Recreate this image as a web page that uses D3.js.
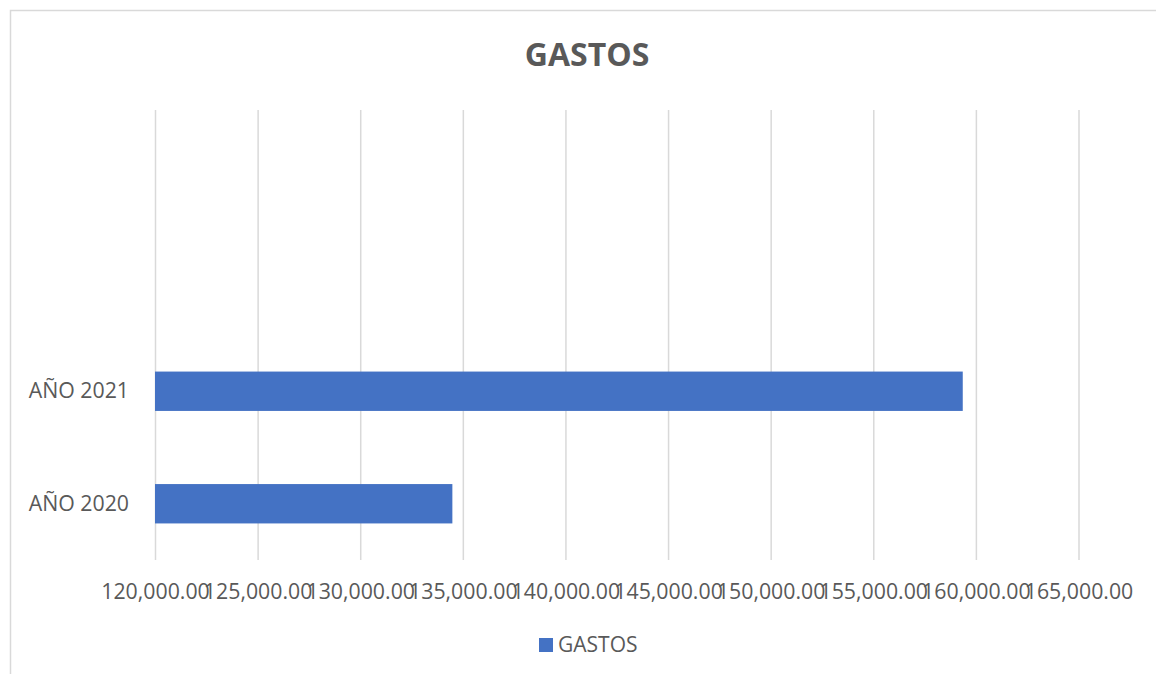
<!DOCTYPE html>
<html>
<head>
<meta charset="utf-8">
<script src="https://cdn.jsdelivr.net/npm/d3@7"></script>
<style>
  body { margin: 0; background: #fff; }
  text { font-family: "Open Sans", sans-serif; fill: #595959; }
</style>
</head>
<body>
<div class="grafico"></div>
<script>
// datos (las dos ultimas categorias estan vacias)
var categorias = ["AÑO 2020", "AÑO 2021", "", ""];
var gastos = [134490, 159360, null, null];
var ticksX = [120000, 125000, 130000, 135000, 140000, 145000, 150000, 155000, 160000, 165000];
var serie = "GASTOS";
var titulo = "GASTOS";

var w = 1156;
var h = 674;

var svg = d3.select(".grafico")
  .append("svg")
  .attr("width", w)
  .attr("height", h);

// marco del area del grafico
svg.append("rect")
  .attr("x", 10.5).attr("y", 10.5)
  .attr("width", w + 20).attr("height", h + 20)
  .attr("fill", "#fff")
  .attr("stroke", "#d9d9d9")
  .attr("stroke-width", 1.5);

var x = d3.scaleLinear()
  .domain([120000, 165000])
  .range([155, 1078.5]);

var y = d3.scaleBand()
  .domain(d3.range(categorias.length))
  .range([560, 110])
  .paddingInner(0.65)
  .paddingOuter(0.325);

// eje x con lineas de cuadricula
var ejeX = svg.append("g")
  .attr("transform", "translate(0,560)")
  .call(d3.axisBottom(x).tickValues(ticksX).tickFormat(d3.format(",.2f")).tickSize(-450));

ejeX.select(".domain").remove();
ejeX.selectAll("line").attr("stroke", "#d9d9d9").attr("stroke-width", 1.5);
ejeX.selectAll("text")
  .attr("y", 32).attr("dy", "0.35em")
  .style("font-size", "21.3px")
  .attr("fill", "#595959");

// eje y
var ejeY = svg.append("g")
  .attr("transform", "translate(129,0)")
  .call(d3.axisLeft(y).tickSize(0).tickFormat(function(i) { return categorias[i]; }));

ejeY.select(".domain").remove();
ejeY.selectAll("text")
  .attr("x", 0)
  .style("font-size", "21.3px")
  .attr("fill", "#595959");

// barras
svg.selectAll(".barra")
  .data(gastos.map(function(v, i) { return {v: v, i: i}; }).filter(function(d) { return d.v != null; }))
  .enter().append("rect")
  .attr("class", "barra")
  .attr("x", x(120000))
  .attr("y", function(d) { return y(d.i); })
  .attr("width", function(d) { return x(d.v) - x(120000); })
  .attr("height", y.bandwidth())
  .attr("fill", "#4472c4");

// titulo
svg.append("text")
  .attr("x", 587).attr("y", 55)
  .attr("dy", "0.35em")
  .attr("text-anchor", "middle")
  .style("font-size", "32px")
  .style("font-weight", "bold")
  .text(titulo);

// leyenda
svg.append("rect")
  .attr("x", 539).attr("y", 638)
  .attr("width", 14).attr("height", 14)
  .attr("fill", "#4472c4");

svg.append("text")
  .attr("x", 558).attr("y", 645)
  .attr("dy", "0.35em")
  .style("font-size", "21px")
  .text(serie);
</script>
</body>
</html>
